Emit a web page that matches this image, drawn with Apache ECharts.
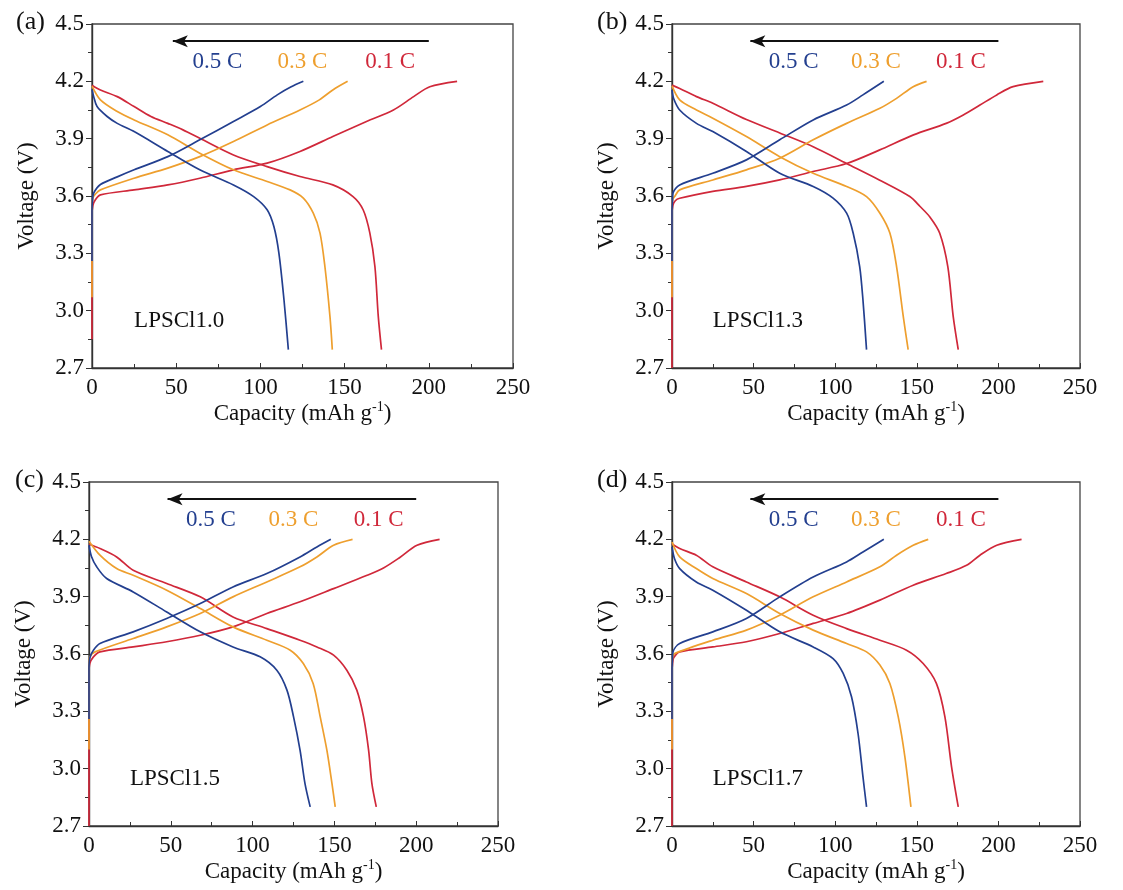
<!DOCTYPE html>
<html>
<head>
<meta charset="utf-8">
<title>Charge-discharge curves</title>
<script src="https://cdn.jsdelivr.net/npm/echarts@6/dist/echarts.min.js"></script>
<style>
  html, body { margin: 0; padding: 0; background: #fff; }
  #main { width: 1123px; height: 890px; }
</style>
</head>
<body>
<div id="main"></div>
<script>
// rate labels and colours
var rates = ['0.5 C', '0.3 C', '0.1 C'];
var samples = ['LPSCl1.0', 'LPSCl1.3', 'LPSCl1.5', 'LPSCl1.7'];
var panelTags = ['(a)', '(b)', '(c)', '(d)'];

// panel (a) LPSCl1.0 : [capacity mAh/g, voltage V]
var a05ch = [[0,3.26],[0,3.52],[0.3,3.58],[1,3.615],[5,3.66],[15,3.70],[25,3.737],[45,3.806],[64,3.894],[84,3.99],[100,4.068],[110,4.129],[118,4.17],[125.5,4.2]];
var a05dis = [[0,4.158],[1,4.12],[3,4.068],[9,4.016],[15,3.98],[25,3.937],[45,3.833],[64,3.737],[84,3.658],[96,3.597],[104,3.528],[108,3.44],[111,3.30],[114,3.057],[116.6,2.796]];
var a03ch = [[0,3.07],[0,3.55],[0.5,3.59],[2,3.61],[5,3.632],[25,3.693],[45,3.746],[64,3.806],[84,3.885],[104,3.972],[123.5,4.05],[135,4.103],[143,4.155],[151.8,4.2]];
var a03dis = [[0,4.175],[5,4.103],[15,4.042],[25,3.998],[45,3.92],[64,3.824],[84,3.737],[104,3.676],[117.6,3.632],[125.5,3.589],[131.4,3.51],[135.4,3.406],[138.3,3.231],[141.3,2.97],[142.7,2.796]];
var a01ch = [[0,2.85],[0,3.5],[0.5,3.55],[2,3.58],[5,3.606],[25,3.632],[45,3.658],[64,3.693],[84,3.737],[104,3.772],[123.5,3.833],[143,3.911],[163,3.99],[179,4.05],[191,4.12],[200.6,4.172],[216.8,4.2]];
var a01dis = [[0,4.18],[5,4.155],[15,4.12],[25,4.068],[35,4.016],[45,3.98],[54,3.946],[64,3.902],[84,3.815],[104,3.754],[123.5,3.702],[143,3.658],[155,3.597],[161,3.528],[165,3.406],[168,3.231],[170,2.97],[171.9,2.796]];

// panel (b) LPSCl1.3
var b05ch = [[0,3.26],[0,3.52],[0.3,3.58],[0.6,3.615],[4.7,3.658],[25,3.719],[45.6,3.789],[66,3.894],[86.5,3.998],[107,4.076],[117,4.129],[129.8,4.2]];
var b05dis = [[0,4.155],[1,4.11],[4.7,4.05],[15,3.98],[25,3.937],[45.6,3.833],[66,3.719],[86.5,3.65],[98.7,3.589],[107,3.51],[111,3.406],[115,3.231],[117,3.057],[119.2,2.796]];
var b03ch = [[0,3.07],[0,3.55],[0.5,3.585],[1.6,3.597],[4.7,3.632],[25,3.684],[45.6,3.737],[66,3.798],[86.5,3.894],[107,3.98],[127.4,4.059],[137.6,4.111],[147.8,4.172],[156,4.2]];
var b03dis = [[0,4.176],[4.7,4.103],[15,4.05],[25,4.007],[45.6,3.911],[66,3.806],[86.5,3.719],[107,3.65],[119.2,3.597],[127.4,3.51],[133.5,3.406],[137.6,3.231],[141.7,2.97],[144.7,2.796]];
var b01ch = [[0,2.7],[0,3.5],[0.5,3.55],[2,3.575],[4.7,3.588],[25,3.624],[45.6,3.65],[66,3.684],[86.5,3.728],[107,3.77],[127,3.84],[148,3.92],[168,3.98],[178.5,4.024],[188.7,4.076],[199,4.129],[209,4.172],[227.5,4.2]];
var b01dis = [[0,4.18],[4.7,4.163],[15,4.12],[25,4.085],[45.6,4.0],[66,3.93],[86.5,3.858],[107,3.77],[127,3.684],[145.7,3.597],[152,3.545],[158,3.49],[164,3.406],[169,3.23],[172.3,2.97],[175.4,2.796]];

// panel (c) LPSCl1.5
var c05ch = [[0,3.26],[0,3.52],[0.5,3.58],[2.7,3.62],[6.7,3.655],[27,3.716],[47.5,3.786],[68,3.864],[88,3.951],[108.7,4.021],[129,4.108],[139.3,4.16],[147.8,4.2]];
var c05dis = [[0,4.169],[1.5,4.11],[4.7,4.056],[10.8,3.995],[27,3.925],[47.5,3.82],[68,3.716],[88,3.637],[104.6,3.585],[114.8,3.515],[121,3.411],[125,3.272],[129,3.097],[132,2.923],[135.2,2.8]];
var c03ch = [[0,3.1],[0,3.55],[0.5,3.585],[3.7,3.611],[27,3.681],[47.5,3.742],[68,3.812],[88,3.899],[108.7,3.977],[129,4.056],[139.3,4.108],[149.5,4.169],[161.1,4.2]];
var c03dis = [[0,4.19],[6.7,4.117],[16.9,4.047],[27,4.012],[47.5,3.934],[68,3.838],[88,3.742],[108.7,3.672],[123,3.62],[131,3.55],[137,3.446],[141.3,3.272],[145.4,3.097],[148.5,2.923],[150.5,2.8]];
var c01ch = [[0,2.7],[0,3.5],[0.5,3.55],[2.7,3.585],[6.7,3.611],[27,3.637],[47.5,3.664],[68,3.698],[88,3.742],[108.7,3.812],[129,3.873],[149.5,3.942],[170,4.012],[180,4.05],[190,4.105],[200.5,4.169],[214.3,4.2]];
var c01dis = [[0,4.174],[6.7,4.152],[16.9,4.108],[27,4.038],[47.5,3.969],[68,3.899],[88,3.794],[108.7,3.733],[129,3.672],[139.3,3.637],[149.5,3.594],[157.6,3.515],[163.7,3.411],[167.8,3.272],[170.9,3.097],[172.9,2.923],[175.6,2.8]];

// panel (d) LPSCl1.7
var d05ch = [[0,3.26],[0,3.52],[0.3,3.58],[0.6,3.611],[4.7,3.655],[25,3.716],[45.6,3.786],[66,3.899],[86.5,4.003],[107,4.082],[117,4.134],[129.8,4.2]];
var d05dis = [[0,4.16],[1.5,4.1],[4.7,4.047],[14.9,3.977],[25,3.934],[45.6,3.829],[66,3.716],[86.5,3.637],[98.7,3.576],[104.9,3.498],[110,3.376],[114,3.184],[117,2.958],[119.2,2.8]];
var d03ch = [[0,3.1],[0,3.55],[0.5,3.585],[1.6,3.602],[25,3.672],[45.6,3.725],[66,3.803],[86.5,3.899],[107,3.977],[127.4,4.056],[137.6,4.117],[147.8,4.169],[157,4.2]];
var d03dis = [[0,4.186],[4.7,4.108],[14.9,4.047],[25,3.995],[45.6,3.916],[66,3.812],[86.5,3.725],[107,3.655],[119.2,3.611],[127.4,3.542],[133.5,3.446],[138.6,3.272],[142.7,3.062],[146.4,2.8]];
var d01ch = [[0,2.7],[0,3.5],[0.3,3.55],[1,3.58],[4.7,3.611],[25,3.637],[45.6,3.664],[66,3.707],[86.5,3.76],[107,3.812],[127.4,3.882],[147.8,3.96],[168,4.021],[180.5,4.064],[188.7,4.117],[199,4.169],[214.2,4.2]];
var d01dis = [[0,4.177],[4.7,4.152],[14.9,4.117],[25,4.056],[45.6,3.977],[66,3.899],[86.5,3.803],[107,3.733],[127.4,3.672],[143.7,3.62],[153.9,3.55],[162,3.446],[167.2,3.272],[171.3,3.01],[175.4,2.8]];

// annotation positions (data units)
var arrowFrom = [200, 4.41];
var arrowTo = [48, 4.41];
var rateLabelX = [74.5, 125, 177];
var rateLabelY = 4.30;
var sampleLabelPos = [25, 2.945];

var panels = [
  { ch: [a05ch, a03ch, a01ch], dis: [a05dis, a03dis, a01dis] },
  { ch: [b05ch, b03ch, b01ch], dis: [b05dis, b03dis, b01dis] },
  { ch: [c05ch, c03ch, c01ch], dis: [c05dis, c03dis, c01dis] },
  { ch: [d05ch, d03ch, d01ch], dis: [d05dis, d03dis, d01dis] }
];

var colors = ['#233f8f', '#ee9f2e', '#d0283a'];
var font = 'Liberation Serif';
var ink = '#111';
var fs = 23;

var grids = [
  { left: 92, top: 24, width: 421, height: 344 },
  { left: 672, top: 24, width: 408, height: 344 },
  { left: 89, top: 482, width: 409, height: 344 },
  { left: 672, top: 482, width: 408, height: 344 }
];
var tagPos = [[16, 9], [597, 9], [15, 467], [597, 467]];

var myChart = echarts.init(document.getElementById('main'), null, { renderer: 'canvas' });

var option = {
  backgroundColor: '#fff',
  animation: false,
  grid: [],
  xAxis: [],
  yAxis: [],
  series: [],
  graphic: []
};

panels.forEach(function (p, i) {
  var g = grids[i];
  option.grid.push({
    left: g.left, top: g.top, width: g.width, height: g.height,
    show: true, borderColor: '#444', borderWidth: 1.3, backgroundColor: 'transparent'
  });
  option.xAxis.push({
    gridIndex: i, type: 'value', min: 0, max: 250, interval: 50,
    name: '{n|Capacity (mAh g}{s|-1}{n|)}',
    nameLocation: 'middle', nameGap: 32,
    nameTextStyle: {
      rich: {
        n: { fontFamily: font, fontSize: fs, color: ink, lineHeight: 27 },
        s: { fontFamily: font, fontSize: 14, color: ink, verticalAlign: 'top', lineHeight: 27, padding: [0, 0, 8, 0] }
      }
    },
    axisLine: { show: true, lineStyle: { color: '#333', width: 1.4 } },
    axisTick: { show: true, inside: true, length: 5, lineStyle: { color: '#333' } },
    minorTick: { show: true, splitNumber: 2, length: 4, lineStyle: { color: '#333' } },
    axisLabel: { fontFamily: font, fontSize: fs, color: ink, margin: 8 },
    splitLine: { show: false }, minorSplitLine: { show: false }
  });
  option.yAxis.push({
    gridIndex: i, type: 'value', min: 2.7, max: 4.5, interval: 0.3,
    name: 'Voltage (V)', nameLocation: 'middle', nameGap: 54, nameRotate: 90,
    nameTextStyle: { fontFamily: font, fontSize: fs, color: ink },
    axisLine: { show: true, lineStyle: { color: '#333', width: 1.4 } },
    axisTick: { show: true, inside: false, length: 6, lineStyle: { color: '#333' } },
    minorTick: { show: true, splitNumber: 2, length: 4, lineStyle: { color: '#333' } },
    axisLabel: {
      fontFamily: font, fontSize: fs, color: ink, margin: 8,
      formatter: function (v) { return v.toFixed(1); }
    },
    splitLine: { show: false }, minorSplitLine: { show: false }
  });

  // draw 0.1 C first so 0.5 C ends on top at x = 0
  for (var k = 2; k >= 0; k--) {
    [p.ch[k], p.dis[k]].forEach(function (d, j) {
      option.series.push({
        name: rates[k] + (j === 0 ? ' charge' : ' discharge'),
        type: 'line', xAxisIndex: i, yAxisIndex: i,
        data: d, showSymbol: false, symbol: 'none', smooth: 0.3,
        lineStyle: { color: colors[k], width: 1.7 },
        silent: true
      });
    });
  }

  // arrow + text labels
  var labels = rates.map(function (r, k) {
    return {
      value: [rateLabelX[k], rateLabelY], name: r,
      label: { show: true, position: 'inside', formatter: r, color: colors[k],
               opacity: 1, textBorderWidth: 0, fontFamily: font, fontSize: fs }
    };
  });
  labels.push({
    value: sampleLabelPos, name: samples[i],
    label: { show: true, position: 'right', distance: 0, formatter: samples[i], color: ink,
             opacity: 1, textBorderWidth: 0, fontFamily: font, fontSize: fs }
  });
  option.series.push({
    type: 'scatter', xAxisIndex: i, yAxisIndex: i, symbolSize: 0,
    itemStyle: { color: 'transparent', opacity: 1 },
    data: labels, silent: true,
    markLine: {
      silent: true, symbol: ['none', 'arrow'], symbolSize: [9, 15],
      label: { show: false },
      lineStyle: { color: ink, width: 1.8, type: 'solid', opacity: 1 },
      data: [[{ coord: arrowFrom }, { coord: arrowTo }]]
    }
  });

  option.graphic.push({
    type: 'text', left: tagPos[i][0], top: tagPos[i][1],
    style: { text: panelTags[i], font: '26px "' + font + '"', fill: ink }
  });
});

myChart.setOption(option);
</script>
</body>
</html>
